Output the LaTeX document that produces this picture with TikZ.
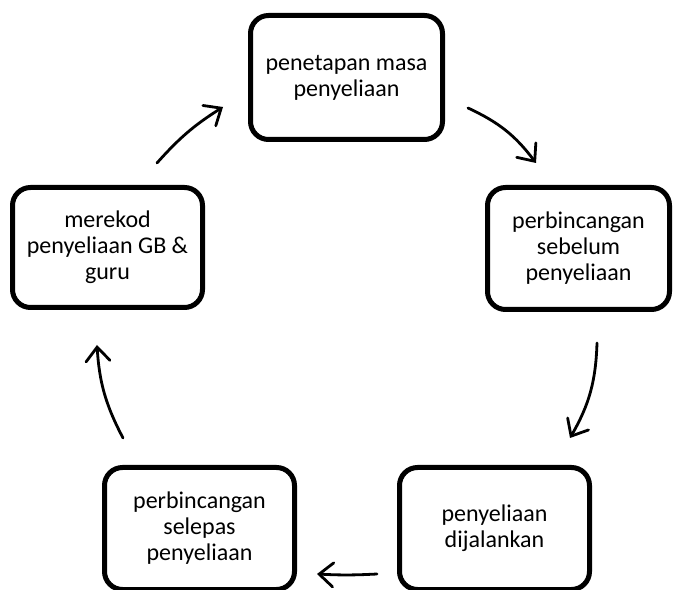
\documentclass[tikz,border=0pt]{standalone}
\usepackage{fontspec}
\setmainfont{Carlito}
\usetikzlibrary{arrows.meta}
\begin{document}
\begin{tikzpicture}[x=1pt,y=1pt,
  stage/.style={draw=black, line width=5pt, rounded corners=18pt, align=center,
    font=\fontsize{24}{26}\selectfont, inner sep=0pt},
  cyc/.style={line width=2.8pt, line cap=round, -{Straight Barb[length=14pt,width=24pt,line cap=round]}}]
\useasboundingbox (0,0) rectangle (674,589);
\node[stage, minimum width=192pt, minimum height=124pt] (b1) at (346.5,511.5) {penetapan masa\\penyeliaan};
\node[stage, minimum width=182pt, minimum height=122pt] (b2) at (578.5,340.5) {perbincangan\\sebelum\\penyeliaan};
\node[stage, minimum width=190pt, minimum height=122pt] (b3) at (494.5,60.5) {penyeliaan\\dijalankan};
\node[stage, minimum width=190pt, minimum height=122pt] (b4) at (199.5,60.5) {perbincangan\\selepas\\penyeliaan};
\node[stage, minimum width=190pt, minimum height=120pt] (b5) at (107.5,341.5) {merekod\\penyeliaan GB \&\\guru};
\coordinate (a1s) at (157,426); \coordinate (a1e) at (223,482);
\coordinate (a2s) at (468,481); \coordinate (a2e) at (536,426);
\coordinate (a3s) at (597,246); \coordinate (a3e) at (570,151);
\coordinate (a4s) at (377,15);  \coordinate (a4e) at (317,15);
\coordinate (a5s) at (123,151); \coordinate (a5e) at (97,244);
\draw[cyc] (a1s) to[bend left=8] (a1e);
\draw[cyc] (a2s) to[bend left=14] (a2e);
\draw[cyc] (a3s) to[bend left=14] (a3e);
\draw[cyc] (a4s) to[bend left=3] (a4e);
\draw[cyc] (a5s) to[bend left=12] (a5e);
\end{tikzpicture}
\end{document}
